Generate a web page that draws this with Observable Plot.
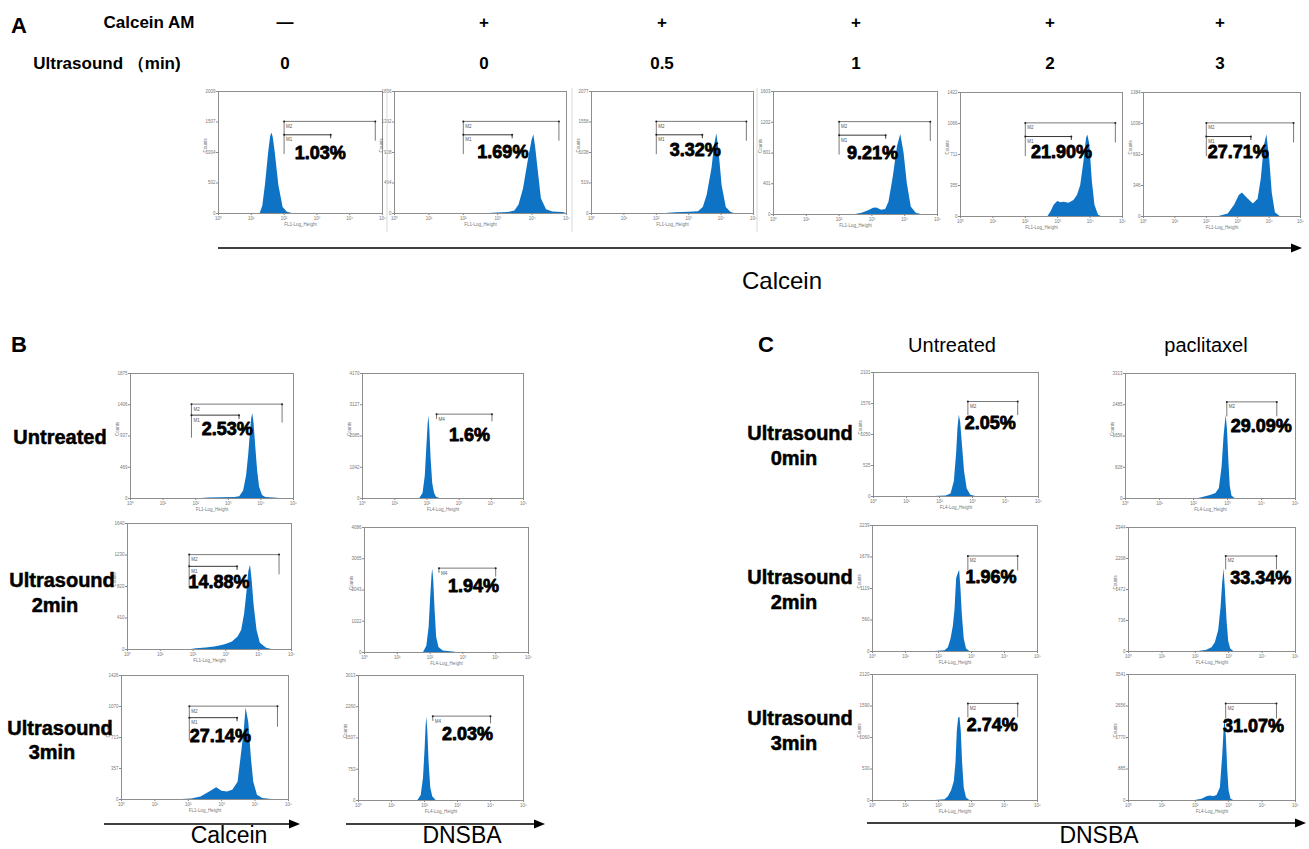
<!DOCTYPE html>
<html><head><meta charset="utf-8">
<script src="https://cdn.jsdelivr.net/npm/d3@7"></script>
<script src="https://cdn.jsdelivr.net/npm/@observablehq/plot@0.6"></script>
<style>
body{margin:0;background:#fff;}
#fig{position:relative;width:1309px;height:849px;overflow:hidden;background:#fff;font-family:"Liberation Sans",Arial,sans-serif;color:#000;}
.lbl{position:absolute;white-space:nowrap;transform:translate(-50%,-50%);line-height:1;}
.pbox{position:absolute;}
</style></head><body><div id="fig"></div>
<script>
// ---------------- DATA ----------------
// Panel A header rows
const calceinAM = ["—","+","+","+","+","+"];
const ultrasoundMin = ["0","0","0.5","1","2","3"];
const pctA = ["1.03%","1.69%","3.32%","9.21%","21.90%","27.71%"];
const pctB = ["2.53%","1.6%","14.88%","1.94%","27.14%","2.03%"];
const pctC = ["2.05%","29.09%","1.96%","33.34%","2.74%","31.07%"];
const rowLabelsB = [["Untreated"],["Ultrasound","2min"],["Ultrasound","3min"]];
const rowLabelsC = [["Ultrasound","0min"],["Ultrasound","2min"],["Ultrasound","3min"]];
const colLabelsC = ["Untreated","paclitaxel"];

// histogram outlines: [log10 fluorescence, share of the axis maximum count]
const histA1 = [[1.27,0],[1.35,0.06],[1.43,0.23],[1.53,0.5],[1.59,0.63],[1.63,0.66],[1.67,0.62],[1.73,0.5],[1.84,0.23],[1.97,0.05],[2.1,0.01],[2.25,0]];
const histA2 = [[2.75,0],[3.0,0.004],[3.3,0.008],[3.5,0.02],[3.62,0.07],[3.75,0.2],[3.9,0.45],[4.0,0.6],[4.05,0.645],[4.1,0.55],[4.17,0.37],[4.27,0.12],[4.42,0.03],[4.6,0.012],[4.9,0.008],[5.0,0]];
const histA3 = [[2.3,0],[2.6,0.006],[3.0,0.01],[3.3,0.015],[3.45,0.05],[3.57,0.15],[3.72,0.37],[3.8,0.56],[3.87,0.654],[3.94,0.5],[4.03,0.23],[4.16,0.05],[4.3,0.01],[4.4,0]];
const histA4 = [[2.5,0],[2.7,0.01],[2.9,0.03],[3.05,0.05],[3.15,0.052],[3.3,0.035],[3.42,0.04],[3.52,0.1],[3.65,0.3],[3.78,0.55],[3.88,0.65],[3.98,0.5],[4.08,0.25],[4.2,0.06],[4.35,0.01],[4.5,0]];
const histA5 = [[2.7,0],[2.8,0.04],[2.89,0.09],[3.0,0.12],[3.1,0.11],[3.2,0.115],[3.35,0.107],[3.5,0.13],[3.61,0.17],[3.71,0.25],[3.81,0.44],[3.89,0.63],[3.93,0.657],[3.99,0.58],[4.07,0.28],[4.15,0.09],[4.26,0.01],[4.35,0]];
const histA6 = [[2.4,0],[2.7,0.02],[2.9,0.09],[3.05,0.17],[3.15,0.19],[3.3,0.15],[3.5,0.1],[3.65,0.14],[3.75,0.3],[3.85,0.57],[3.93,0.66],[4.02,0.46],[4.1,0.19],[4.2,0.03],[4.35,0]];

const histB1L = [[2.2,0],[2.4,0.005],[2.8,0.006],[3.2,0.008],[3.35,0.015],[3.47,0.06],[3.56,0.18],[3.63,0.36],[3.68,0.53],[3.72,0.64],[3.75,0.68],[3.79,0.6],[3.84,0.42],[3.9,0.22],[3.96,0.09],[4.05,0.025],[4.15,0.008],[4.4,0.004],[4.6,0]];
const histB1R = [[1.78,0],[1.88,0.04],[1.95,0.18],[2.0,0.42],[2.04,0.6],[2.06,0.66],[2.09,0.56],[2.13,0.32],[2.18,0.12],[2.24,0.04],[2.3,0.01],[2.4,0]];
const histB2L = [[1.95,0],[2.1,0.005],[2.4,0.012],[2.66,0.02],[2.85,0.03],[3.0,0.04],[3.2,0.06],[3.37,0.1],[3.48,0.15],[3.57,0.28],[3.64,0.45],[3.7,0.62],[3.75,0.668],[3.8,0.55],[3.86,0.35],[3.95,0.15],[4.05,0.05],[4.24,0.01],[4.4,0]];
const histB2R = [[1.8,0],[1.9,0.05],[1.97,0.2],[2.02,0.45],[2.06,0.62],[2.08,0.667],[2.11,0.58],[2.15,0.35],[2.2,0.12],[2.27,0.04],[2.4,0.012],[2.7,0.004],[2.8,0]];
const histB3L = [[1.8,0],[2.1,0.005],[2.38,0.02],[2.64,0.06],[2.85,0.094],[3.01,0.067],[3.17,0.06],[3.33,0.075],[3.49,0.14],[3.59,0.36],[3.68,0.57],[3.73,0.737],[3.81,0.62],[3.89,0.33],[3.96,0.14],[4.07,0.035],[4.23,0.008],[4.5,0]];
const histB3R = [[1.8,0],[1.9,0.04],[1.97,0.18],[2.02,0.42],[2.05,0.6],[2.07,0.667],[2.1,0.56],[2.14,0.3],[2.19,0.1],[2.25,0.03],[2.35,0]];

const histC1L = [[1.85,0],[2.2,0.005],[2.35,0.02],[2.45,0.12],[2.52,0.35],[2.56,0.55],[2.6,0.655],[2.64,0.6],[2.7,0.4],[2.76,0.2],[2.84,0.06],[2.95,0.01],[3.1,0]];
const histC1R = [[2.15,0],[2.3,0.01],[2.5,0.025],[2.66,0.04],[2.76,0.08],[2.84,0.25],[2.9,0.5],[2.96,0.667],[3.0,0.55],[3.04,0.3],[3.08,0.1],[3.13,0.02],[3.22,0]];
const histC2L = [[1.9,0],[2.2,0.005],[2.3,0.03],[2.38,0.1],[2.45,0.2],[2.5,0.33],[2.55,0.58],[2.6,0.62],[2.64,0.645],[2.68,0.5],[2.72,0.3],[2.78,0.1],[2.85,0.02],[2.95,0]];
const histC2R = [[2.1,0],[2.35,0.01],[2.5,0.03],[2.6,0.07],[2.7,0.17],[2.77,0.35],[2.82,0.55],[2.86,0.665],[2.9,0.5],[2.95,0.25],[3.0,0.08],[3.06,0.02],[3.15,0]];
const histC3L = [[1.9,0],[2.2,0.005],[2.3,0.03],[2.4,0.08],[2.48,0.15],[2.53,0.3],[2.57,0.55],[2.61,0.65],[2.65,0.663],[2.69,0.55],[2.73,0.3],[2.78,0.1],[2.85,0.02],[2.95,0]];
const histC3R = [[2.0,0],[2.2,0.01],[2.35,0.03],[2.45,0.035],[2.55,0.03],[2.65,0.04],[2.75,0.1],[2.82,0.35],[2.86,0.55],[2.89,0.655],[2.93,0.5],[2.97,0.25],[3.01,0.08],[3.07,0.01],[3.15,0]];

// y-axis tick labels (counts)
const yTicksA = [[0,502,1004,1507,2009],[0,464,928,1392,1856],[0,519,1038,1558,2077],[0,401,801,1202,1603],[0,355,711,1066,1422],[0,346,692,1038,1384]];
const yTicksB = [[0,469,937,1406,1875],[0,1042,2085,3127,4170],[0,410,820,1230,1640],[0,1022,2043,3065,4086],[0,357,713,1070,1426],[0,753,1507,2260,3013]];
const yTicksC = [[0,525,1050,1576,2101],[0,828,1656,2485,3313],[0,560,1119,1679,2239],[0,736,1472,2208,2944],[0,530,1060,1590,2120],[0,885,1770,2656,3541]];
const xTickValues = [1,10,100,1000,10000,100000];

// marker gates: [name, log10 start, log10 end, level, left-end level, right-end level]
const gatesA = [["M2",2.0,4.78,0.755,0.49,0.6],["M1",2.0,3.42,0.645,0.645,0.62]];
const gatesB = [
  [["M2",1.87,4.65,0.755,0.49,0.61],["M1",1.87,3.33,0.667,0.667,0.64]],
  [["M4",2.3,4.02,0.675,0.64,0.62]],
  [["M2",1.88,4.62,0.753,0.49,0.6],["M1",1.88,3.34,0.66,0.66,0.635]],
  [["M4",2.27,4.0,0.675,0.64,0.61]],
  [["M2",2.03,4.67,0.753,0.48,0.59],["M1",2.03,3.46,0.66,0.66,0.635]],
  [["M4",2.25,4.0,0.675,0.64,0.62]]
];
const gatesC = [
  [["M2",2.86,4.37,0.766,0.66,0.66]],
  [["M2",2.98,4.45,0.773,0.66,0.66]],
  [["M2",2.89,4.4,0.758,0.645,0.645]],
  [["M2",2.91,4.43,0.77,0.665,0.665]],
  [["M2",2.89,4.4,0.77,0.663,0.663]],
  [["M2",2.91,4.43,0.77,0.655,0.655]]
];
// percent label anchor: [log10 position, share of max]
const pctPosA = [[3.1,0.49],[3.15,0.5],[3.2,0.52],[3.02,0.5],[3.12,0.52],[3.02,0.52]];
const pctPosB = [[2.97,0.555],[3.32,0.51],[2.79,0.53],[3.32,0.53],[2.96,0.51],[3.3,0.53]];
const pctPosC = [[3.54,0.59],[3.99,0.58],[3.59,0.59],[3.96,0.59],[3.63,0.6],[3.74,0.59]];

// ---------------- LAYOUT ----------------
const framesA = [[218,91,382,213],[394,91,566,213],[591,91,753,213],[773,91,937,214],[960,92,1122,216],[1143,92,1300,216]];
const framesB = [[130,373,293,498],[362,373,523,498],[127,523,291,649],[364,527,528,652],[121,675,288,799],[358,675,523,800]];
const framesC = [[873,372,1038,496],[1125,373,1295,498],[872,525,1037,651],[1128,527,1295,651],[872,674,1037,800],[1128,674,1295,800]];

const BLUE = "#0e73c5";
const SUP = ["⁰","¹","²","³","⁴","⁵"];
const FONT = "Liberation Sans, Arial, sans-serif";
const fig = document.getElementById("fig");

function drawHist(frame, shape, yTicks, xLabel, gates, pct, pctAt) {
  const [l,t,r,b] = frame;
  const mL = 17, mR = 2, mT = 2, mB = 17;
  const ymax = yTicks[yTicks.length - 1];
  const P = ([e,f]) => ({x: 10 ** e, y: f * ymax});
  const marks = [
    Plot.areaY(shape.map(P), {x:"x", y:"y", fill:BLUE, curve:"linear"}),
    Plot.frame({stroke:"#8e8e8e", strokeWidth:1}),
    Plot.axisX({ticks:xTickValues, tickFormat:d => "10" + SUP[Math.round(Math.log10(d))], tickSize:2, tickPadding:1, fontSize:4.5, stroke:"#888", fill:"#777", label:null}),
    Plot.axisY({ticks:yTicks, tickFormat:d => String(d), tickSize:2, tickPadding:1, fontSize:4.5, stroke:"#888", fill:"#777", label:null}),
    Plot.text([xLabel], {frameAnchor:"bottom", dy:12, fontSize:4.5, fill:"#777"}),
    Plot.text(["Counts"], {frameAnchor:"left", rotate:-90, dx:-13, fontSize:4.5, fill:"#777"})
  ];
  for (const [name, x1, x2, lev, yl, yr] of gates) {
    const path = [[x1,yl],[x1,lev],[x2,lev],[x2,yr]].map(P);
    marks.push(Plot.line(path, {x:"x", y:"y", stroke: name === "M1" ? "#222" : "#6a6a6a", strokeWidth:0.9}));
    marks.push(Plot.dot([path[1], path[2]], {x:"x", y:"y", r:1, fill:"#222"}));
    marks.push(Plot.text([{...P([x1,lev]), t:name}], {x:"x", y:"y", text:"t", dx:2, dy:5, textAnchor:"start", fontSize:4.5, fill:"#555"}));
  }
  marks.push(Plot.text([{...P(pctAt), t:pct}], {x:"x", y:"y", text:"t", fontSize:18, fontWeight:"bold", fill:"#000", stroke:"#000", strokeWidth:0.8, fontFamily:FONT}));
  const svg = Plot.plot({
    width: (r - l) + mL + mR, height: (b - t) + mT + mB,
    marginLeft:mL, marginRight:mR, marginTop:mT, marginBottom:mB,
    style:{fontFamily:FONT, fontSize:"5px", background:"transparent", overflow:"visible"},
    x:{type:"log", domain:[1,1e5]},
    y:{domain:[0,ymax]},
    marks
  });
  const box = document.createElement("div");
  box.className = "pbox";
  box.style.left = (l - mL) + "px";
  box.style.top = (t - mT) + "px";
  box.appendChild(svg);
  fig.appendChild(box);
}

const histsA = [histA1,histA2,histA3,histA4,histA5,histA6];
const histsB = [histB1L,histB1R,histB2L,histB2R,histB3L,histB3R];
const histsC = [histC1L,histC1R,histC2L,histC2R,histC3L,histC3R];

histsA.forEach((h,i) => drawHist(framesA[i], h, yTicksA[i], "FL1-Log_Height", gatesA, pctA[i], pctPosA[i]));
histsB.forEach((h,i) => drawHist(framesB[i], h, yTicksB[i], i % 2 ? "FL4-Log_Height" : "FL1-Log_Height", gatesB[i], pctB[i], pctPosB[i]));
histsC.forEach((h,i) => drawHist(framesC[i], h, yTicksC[i], "FL4-Log_Height", gatesC[i], pctC[i], pctPosC[i]));

// faint borders of the panel A tiles
const sep = document.createElementNS("http://www.w3.org/2000/svg","svg");
sep.setAttribute("width",1309); sep.setAttribute("height",849);
sep.style.position="absolute"; sep.style.left="0"; sep.style.top="0"; sep.style.pointerEvents="none";
const tileEdges = [387, 572, 757];
let inner = tileEdges.map(x => `<line x1="${x}" x2="${x}" y1="88" y2="232" stroke="#d8d8d8" stroke-width="1"/>`).join("");
// arrows under the panels
const arrows = [[218,1302,248],[104,300,824],[346,545,824],[867,1306,823]];
for (const [x1,x2,y] of arrows) {
  inner += `<line x1="${x1}" x2="${x2-9}" y1="${y}" y2="${y}" stroke="#000" stroke-width="1.6"/>`;
  inner += `<polygon points="${x2},${y} ${x2-11},${y-4.5} ${x2-11},${y+4.5}" fill="#000"/>`;
}
sep.innerHTML = inner;
fig.appendChild(sep);

function label(text, x, y, css) {
  const d = document.createElement("div");
  d.className = "lbl"; d.textContent = text;
  d.style.left = x + "px"; d.style.top = y + "px";
  Object.assign(d.style, css);
  fig.appendChild(d);
}
const bold = (s, k) => ({fontWeight:"bold", fontSize:s + "px", webkitTextStroke:(k || 0) + "px #000"});
const reg = (s) => ({fontWeight:"normal", fontSize:s + "px"});

// panel letters
label("A", 19, 26, bold(22));
label("B", 19, 345, bold(22));
label("C", 766, 345, bold(22));

// panel A headers
const headerX = [285, 484, 662, 856, 1050, 1220];
label("Calcein AM", 149, 22, bold(17));
label("Ultrasound （min)", 107, 63, bold(17));
calceinAM.forEach((s,i) => label(s, headerX[i], 22, bold(17)));
ultrasoundMin.forEach((s,i) => label(s, headerX[i], 63, bold(17)));

// axis captions
label("Calcein", 782, 281, reg(24));
label("Calcein", 229, 835, reg(23));
label("DNSBA", 462, 835, reg(23));
label("DNSBA", 1099, 835, reg(23));

// panel B row labels
const rowYB = [[437],[580,605],[728,752]];
const rowXB = [[60],[62,55],[60,52]];
rowLabelsB.forEach((lines,i) => lines.forEach((s,j) => label(s, rowXB[i][j], rowYB[i][j], bold(20, 0.5))));

// panel C headers and row labels
label(colLabelsC[0], 952, 345, reg(20));
label(colLabelsC[1], 1206, 345, reg(20));
const rowYC = [[433,458],[577,602],[718,743]];
rowLabelsC.forEach((lines,i) => lines.forEach((s,j) => label(s, j ? 794 : 800, rowYC[i][j], bold(20, 0.5))));
</script>
</body></html>
